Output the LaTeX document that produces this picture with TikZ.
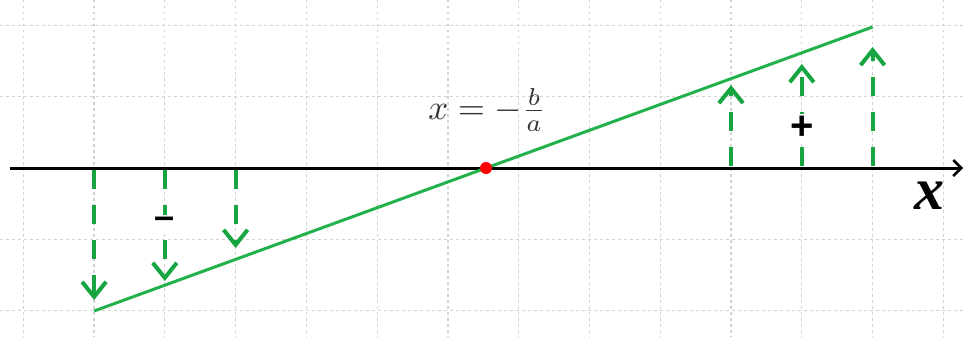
\documentclass[tikz,border=0pt]{standalone}
\usepackage{graphicx}
\usepackage{fontspec}
\newfontfamily\lsans{Liberation Sans}
\newfontfamily\tnr{Liberation Serif}
\usetikzlibrary{arrows.meta}
\definecolor{gline}{RGB}{34,177,76}
\definecolor{garrow}{RGB}{22,165,64}
\definecolor{gridc}{RGB}{210,210,210}
\tikzset{
  gridline/.style={gridc, line width=1.2pt, dash pattern=on 2.5pt off 3.5pt},
  axisline/.style={black, line width=3pt, -{Straight Barb[length=8pt,width=16pt,line width=2.5pt]}},
  graphline/.style={gline, line width=3pt},
  signarrow/.style={garrow, line width=4pt, dash pattern=on 19pt off 16pt,
     -{Straight Barb[length=15pt,width=24pt,line width=4pt]}},
  signlabel/.style={fill=white, inner sep=2pt, font=\lsans\bfseries}
}
\begin{document}
\begin{tikzpicture}[x=1pt,y=-1pt]
\useasboundingbox (0,0) rectangle (965,337);
% grid
\foreach \i in {0,...,13} {
  \draw[gridline] ({23.3+70.77*\i},0) -- ({23.3+70.77*\i},337);
}
\foreach \j in {25.5,96.8,239.2,310.5} {
  \draw[gridline] (0,\j) -- (965,\j);
}
% axis
\coordinate (ax0) at (10,168);
\coordinate (ax1) at (963,168);
\draw[axisline] (ax0) -- (ax1);
% graph line
\coordinate (g0) at (94.1,311);
\coordinate (g1) at (872.6,27);
\draw[graphline] (g0) -- (g1);
% sign arrows
\coordinate (d1s) at (94.1,170);  \coordinate (d1e) at (94.1,300);
\coordinate (d2s) at (164.8,170); \coordinate (d2e) at (164.8,281);
\coordinate (d3s) at (235.6,170); \coordinate (d3e) at (235.6,248);
\coordinate (u1s) at (731,166);   \coordinate (u1e) at (731,85);
\coordinate (u2s) at (801.8,166); \coordinate (u2e) at (801.8,64);
\coordinate (u3s) at (872.6,166); \coordinate (u3e) at (872.6,47);
\draw[signarrow] (d1s) -- (d1e);
\draw[signarrow] (d2s) -- (d2e);
\draw[signarrow] (d3s) -- (d3e);
\draw[signarrow] (u1s) -- (u1e);
\draw[signarrow] (u2s) -- (u2e);
\draw[signarrow] (u3s) -- (u3e);
% root
\node[circle, fill=red, inner sep=0pt, minimum size=12pt] (root) at (486,168) {};
% labels
\node[text=black!80, inner sep=0pt] (eq) at (487,110) {\scalebox{3.5}{$x=-\frac{b}{a}$}};
\node[signlabel] (minus) at (165,223) {\fontsize{36}{36}\selectfont –};
\node[signlabel] (plus) at (801.8,128) {\fontsize{40}{40}\selectfont +};
\node[inner sep=0pt, font=\fontsize{60}{60}\selectfont\tnr\bfseries\itshape] (xl) at (929,196) {x};
\end{tikzpicture}
\end{document}
